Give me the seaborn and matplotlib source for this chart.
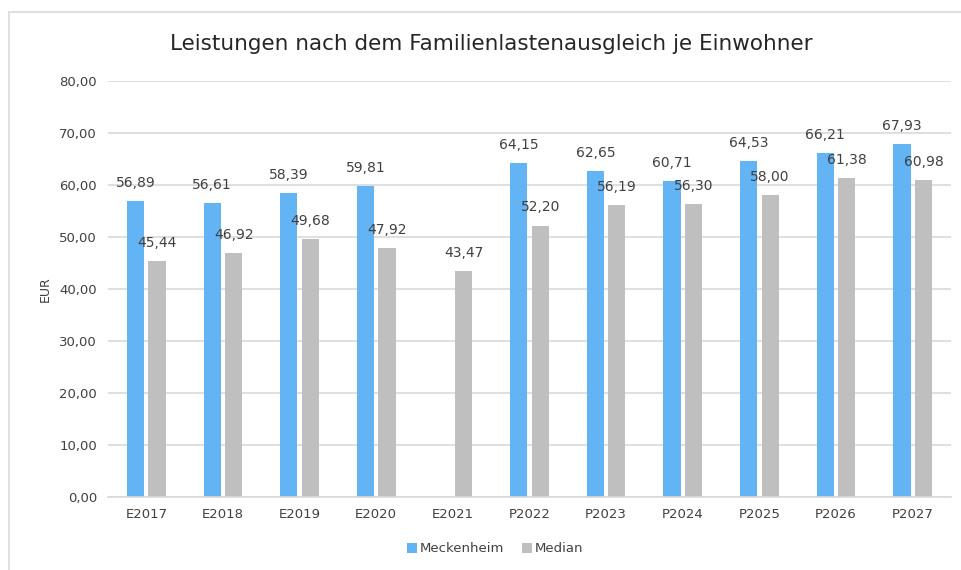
import numpy as np
import pandas as pd
import seaborn as sns
import matplotlib.pyplot as plt
from matplotlib.lines import Line2D

# ----------------------------------------
# Data
# ----------------------------------------
years = ["E2017", "E2018", "E2019", "E2020", "E2021", "P2022",
         "P2023", "P2024", "P2025", "P2026", "P2027"]
meckenheim = [56.89, 56.61, 58.39, 59.81, np.nan, 64.15,
              62.65, 60.71, 64.53, 66.21, 67.93]
median = [45.44, 46.92, 49.68, 47.92, 43.47, 52.20,
          56.19, 56.30, 58.00, 61.38, 60.98]
series = ["Meckenheim", "Median"]
colors = ["#63B4F5", "#BFBFBF"]

df = pd.DataFrame({"Jahr": years, series[0]: meckenheim, series[1]: median})
long = df.melt(id_vars="Jahr", var_name="Reihe", value_name="EUR").dropna()

# ----------------------------------------
# Plot
# ----------------------------------------
sns.set_style("white")
plt.rcParams["font.family"] = ["DejaVu Sans"]

fig = plt.figure(figsize=(9.61, 5.70), dpi=100)
ax = fig.add_axes([108 / 961, 1 - 497 / 570, (951 - 108) / 961, (497 - 81) / 570])

sns.barplot(data=long, x="Jahr", y="EUR", hue="Reihe", order=years,
            hue_order=series, palette=colors, width=0.56, gap=0.2,
            saturation=1, edgecolor="none", linewidth=0, ax=ax, legend=True)

ax.set_ylim(0, 80)
ax.set_xlim(-0.5, len(years) - 0.5)
ax.set_yticks(np.arange(0, 81, 10))
ax.set_yticklabels([f"{v:.2f}".replace(".", ",") for v in np.arange(0, 81, 10)])
ax.yaxis.grid(True, color="#D9D9D9", linewidth=1.2)
ax.set_axisbelow(True)
for side in ["left", "right", "top"]:
    ax.spines[side].set_visible(False)
ax.spines["bottom"].set_color("#D9D9D9")
ax.spines["bottom"].set_linewidth(1.2)
ax.tick_params(axis="both", length=0, labelsize=9.5, colors="#404040", pad=8)
ax.set_xlabel("")
ax.set_ylabel("EUR", fontsize=9, color="#404040", labelpad=5)

for cont in ax.containers:
    ax.bar_label(cont, fmt=lambda v: f"{v:.2f}".replace(".", ","),
                 padding=8, fontsize=10, color="#404040")

fig.text(491 / 961, 1 - 44 / 570, "Leistungen nach dem Familienlastenausgleich je Einwohner",
         ha="center", va="center", fontsize=15.5, color="#262626")

handles, labels = ax.get_legend_handles_labels()
ax.legend(handles, labels, loc="center", bbox_to_anchor=(495 / 961, 1 - 549 / 570),
          bbox_transform=fig.transFigure, ncol=2, frameon=False, fontsize=9.5,
          handlelength=0.75, handleheight=0.75, handletextpad=0.2, columnspacing=1.4,
          labelcolor="#404040")

# outer chart frame: only left and top edges are inside the image
x0, y0 = 9 / 961, 1 - 12 / 570
fig.lines.append(Line2D([x0, x0], [0, y0], transform=fig.transFigure,
                        color="#D9D9D9", linewidth=1.2))
fig.lines.append(Line2D([x0, 1], [y0, y0], transform=fig.transFigure,
                        color="#D9D9D9", linewidth=1.2))

fig.savefig("out.png", dpi=100)
plt.close(fig)
